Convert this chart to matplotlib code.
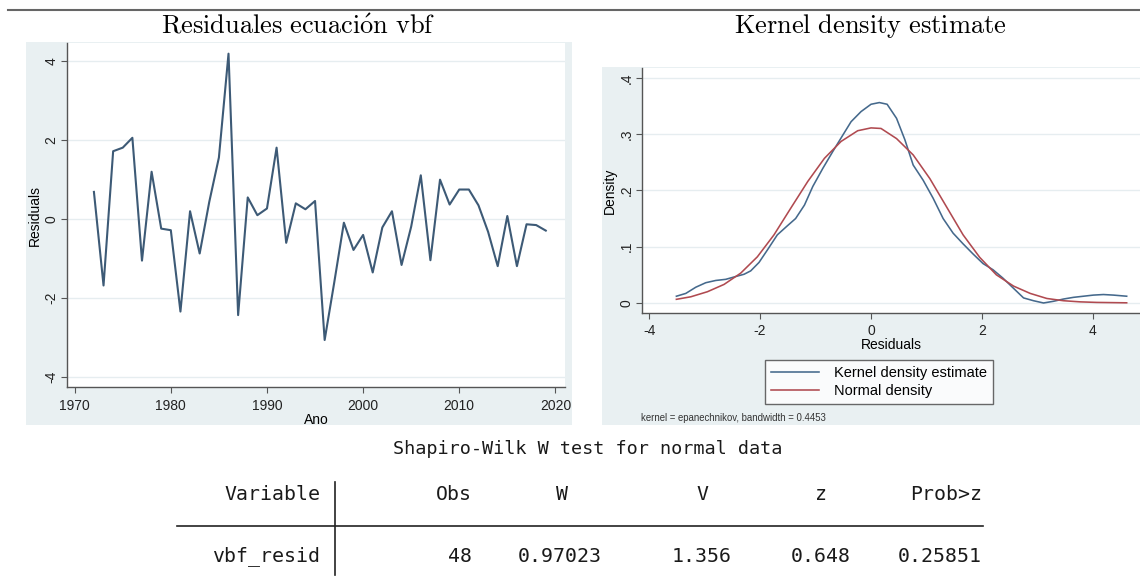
import matplotlib
matplotlib.use('Agg')
import matplotlib.pyplot as plt
from matplotlib.patches import Rectangle
from matplotlib.lines import Line2D

plt.rcParams['font.family'] = ['Liberation Sans', 'DejaVu Sans']
plt.rcParams['mathtext.fontset'] = 'cm'

# Residuals of the vbf equation, one per year
years = list(range(1972, 2020))
resid = [0.69, -1.68, 1.72, 1.81, 2.06, -1.05, 1.20, -0.24, -0.28, -2.34,
         0.20, -0.87, 0.44, 1.56, 4.19, -2.43, 0.55, 0.10, 0.27, 1.81,
         -0.60, 0.40, 0.25, 0.46, -3.06, -1.60, -0.09, -0.78, -0.40, -1.35,
         -0.21, 0.20, -1.16, -0.19, 1.11, -1.04, 1.00, 0.37, 0.75, 0.75,
         0.35, -0.32, -1.19, 0.08, -1.19, -0.13, -0.15, -0.29]

# Kernel density estimate (epanechnikov, bw = 0.4453)
kd_x = [-3.51, -3.34, -3.16, -2.98, -2.80, -2.62, -2.44, -2.29, -2.17, -2.02,
        -1.87, -1.69, -1.51, -1.36, -1.20, -1.05, -0.87, -0.69, -0.51, -0.36,
        -0.18, 0.00, 0.15, 0.29, 0.46, 0.61, 0.76, 0.94, 1.12, 1.30,
        1.48, 1.66, 1.84, 2.02, 2.20, 2.38, 2.57, 2.75, 2.93, 3.11,
        3.29, 3.47, 3.65, 3.83, 4.01, 4.19, 4.37, 4.61]
kd_y = [0.012, 0.017, 0.028, 0.036, 0.040, 0.042, 0.047, 0.051, 0.057, 0.072,
        0.094, 0.121, 0.137, 0.150, 0.174, 0.207, 0.239, 0.269, 0.298, 0.322,
        0.340, 0.353, 0.356, 0.353, 0.328, 0.290, 0.245, 0.218, 0.186, 0.150,
        0.124, 0.105, 0.087, 0.070, 0.059, 0.044, 0.026, 0.009, 0.004, 0.000,
        0.003, 0.007, 0.010, 0.012, 0.014, 0.015, 0.014, 0.012]

# Normal density overlay
nd_x = [-3.51, -3.25, -2.95, -2.65, -2.35, -2.05, -1.75, -1.45, -1.14, -0.84,
        -0.54, -0.24, 0.00, 0.18, 0.46, 0.76, 1.06, 1.36, 1.66, 1.96,
        2.26, 2.57, 2.87, 3.17, 3.47, 3.77, 4.07, 4.61]
nd_y = [0.0065, 0.011, 0.020, 0.033, 0.053, 0.082, 0.121, 0.168, 0.216, 0.257,
        0.287, 0.306, 0.311, 0.310, 0.292, 0.263, 0.221, 0.171, 0.121, 0.081,
        0.050, 0.030, 0.017, 0.008, 0.004, 0.002, 0.001, 0.0003]

# Shapiro-Wilk table
sw_cols = ['Variable', 'Obs', 'W', 'V', 'z', 'Prob>z']
sw_vals = ['vbf_resid', '48', '0.97023', '1.356', '0.648', '0.25851']
sw_head_x = [320, 472, 568, 708, 827, 982]
sw_val_x = [320, 472, 602, 732, 851, 982]

W, H = 1140, 579
bg = '#e9f0f2'
grid_c = '#e6edf0'
axis_c = '#555555'
txt_c = '#222222'


def box(x0, y0, x1, y1):
    return [x0 / W, 1 - y1 / H, (x1 - x0) / W, (y1 - y0) / H]


def stata_axes(ax, xpad):
    ax.set_facecolor('white')
    for s in ['top', 'right']:
        ax.spines[s].set_visible(False)
    for s in ['left', 'bottom']:
        ax.spines[s].set_color(axis_c)
        ax.spines[s].set_linewidth(1.0)
    ax.tick_params(direction='out', length=4, width=0.8, color=axis_c,
                   labelsize=10, labelcolor=txt_c)
    ax.tick_params(axis='x', pad=xpad)
    ax.tick_params(axis='y', pad=2)
    for lab in ax.get_yticklabels():
        lab.set_rotation(90)
        lab.set_va('center')
    ax.grid(axis='y', color=grid_c, lw=1.0)
    ax.set_axisbelow(True)


fig = plt.figure(figsize=(W / 100, H / 100), dpi=100)
fig.patch.set_facecolor('white')

# graph region backgrounds
fig.add_artist(Rectangle((26 / W, 1 - 425 / H), (572 - 26) / W, (425 - 42) / H,
                         transform=fig.transFigure, facecolor=bg, edgecolor='none', zorder=0))
fig.add_artist(Rectangle((602 / W, 1 - 425 / H), (1140 - 602) / W, (425 - 67) / H,
                         transform=fig.transFigure, facecolor=bg, edgecolor='none', zorder=0))

# left panel: residuals over time
ax1 = fig.add_axes(box(67, 43, 565, 387))
ax1.plot(years, resid, color='#3d5a76', lw=1.5)
ax1.set_xlim(1969.2, 2021.0)
ax1.set_ylim(-4.25, 4.46)
ax1.set_xticks([1970, 1980, 1990, 2000, 2010, 2020])
ax1.set_yticks([-4, -2, 0, 2, 4])
ax1.set_yticklabels(['-4', '-2', '0', '2', '4'])
stata_axes(ax1, xpad=5)
ax1.set_xlabel('Ano', fontsize=10, labelpad=0)
ax1.set_ylabel('Residuals', fontsize=10, labelpad=2)

# right panel: kernel density
ax2 = fig.add_axes(box(642, 68, 1140, 313))
ax2.plot(kd_x, kd_y, color='#45698c', lw=1.15)
ax2.plot(nd_x, nd_y, color='#b04a50', lw=1.15)
ax2.set_xlim(-4.13, 4.85)
ax2.set_ylim(-0.0178, 0.4174)
ax2.set_xticks([-4, -2, 0, 2, 4])
ax2.set_xticklabels(['-4', '-2', '0', '2', '4'])
ax2.set_yticks([0, 0.1, 0.2, 0.3, 0.4])
ax2.set_yticklabels(['0', '.1', '.2', '.3', '.4'])
stata_axes(ax2, xpad=4)
ax2.set_xlabel('Residuals', fontsize=10, labelpad=0)
ax2.set_ylabel('Density', fontsize=10, labelpad=2)

handles = [Line2D([], [], color='#45698c', lw=1.15),
           Line2D([], [], color='#b04a50', lw=1.15)]
fig.legend(handles, ['Kernel density estimate', 'Normal density'],
           loc='center', bbox_to_anchor=(879 / W, 1 - 382 / H),
           fontsize=10.5, frameon=True, fancybox=False, edgecolor='#444444',
           handlelength=3.3, borderpad=0.45, labelspacing=0.25,
           handletextpad=1.0, borderaxespad=0)
fig.text(641 / W, 1 - 418 / H, 'kernel = epanechnikov, bandwidth = 0.4453',
         fontsize=6.9, va='center', ha='left', color='#333333')

# panel titles and rule
fig.text(298 / W, 1 - 26 / H, r'$\mathrm{Residuales\ ecuaci\acute{o}n\ vbf}$',
         fontsize=19, ha='center', va='center')
fig.text(870 / W, 1 - 26 / H, r'$\mathrm{Kernel\ density\ estimate}$',
         fontsize=19, ha='center', va='center')
fig.add_artist(Line2D([8 / W, 1], [1 - 10 / H, 1 - 10 / H],
                      transform=fig.transFigure, color='#666666', lw=1.5))

# Shapiro-Wilk output table
mono = 'DejaVu Sans Mono'
fig.text(588 / W, 1 - 449 / H, 'Shapiro-Wilk W test for normal data',
         family=mono, fontsize=13.3, ha='center', va='center', color='#1a1a1a')
for c, xh in zip(sw_cols, sw_head_x):
    fig.text(xh / W, 1 - 494 / H, c, family=mono, fontsize=14.3,
             ha='right', va='center', color='#1a1a1a')
for v, xv in zip(sw_vals, sw_val_x):
    fig.text(xv / W, 1 - 556 / H, v, family=mono, fontsize=14.3,
             ha='right', va='center', color='#1a1a1a')
fig.add_artist(Line2D([177 / W, 983 / W], [1 - 526 / H, 1 - 526 / H],
                      transform=fig.transFigure, color='#222222', lw=1.2))
fig.add_artist(Line2D([335 / W, 335 / W], [1 - 482 / H, 1 - 575 / H],
                      transform=fig.transFigure, color='#222222', lw=1.2))

fig.savefig('out.png', dpi=100)
